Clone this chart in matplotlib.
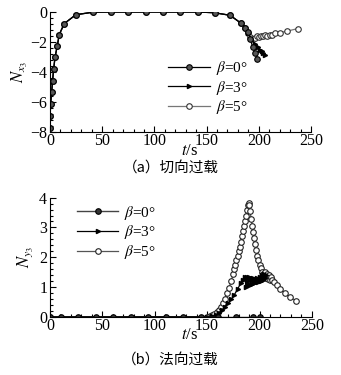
import matplotlib.pyplot as plt
from matplotlib.ticker import MultipleLocator

plt.rcParams['font.family'] = ['Liberation Serif', 'DejaVu Serif']
plt.rcParams['mathtext.fontset'] = 'stix'

# (a) tangential overload
ta_common = [0, 0.2, 0.6, 1.6, 2.5, 3.5, 4.8, 7.0, 8.9, 13.7, 24.8, 41.5, 58.2, 74.9,
             91.6, 108.3, 125.0, 141.7, 157.6, 172.5, 183.0]
na_common = [-7.7, -6.9, -6.1, -5.35, -4.57, -3.82, -3.03, -2.25, -1.5, -0.77, -0.18, -0.01,
             0, 0, 0, 0, 0, 0, -0.05, -0.22, -0.75]
ta_b0 = ta_common + [187, 190, 192, 194, 196.5, 198.6]
na_b0 = na_common + [-1.05, -1.35, -1.83, -2.32, -2.7, -3.1]
ta_b3 = ta_common + [187, 190, 193, 196, 199, 201, 203, 204.3, 206]
na_b3 = na_common + [-1.0, -1.4, -1.8, -2.1, -2.3, -2.5, -2.6, -2.72, -2.85]
ta_b5 = ta_common + [187, 190, 192, 194, 196, 198, 200, 202, 204, 206, 208, 210.7, 213,
                     215.5, 220, 226.7, 237.8]
na_b5 = na_common + [-1.05, -1.4, -1.66, -1.8, -1.7, -1.62, -1.68, -1.58, -1.6, -1.53, -1.57,
                     -1.5, -1.52, -1.43, -1.38, -1.28, -1.1]

# (b) normal overload
tb_b0 = [0, 10.5, 27.2, 43.9, 60.6, 77.3, 94.0, 110.7, 127.4, 144.1, 160.8, 177.5, 194.2, 200]
nb_b0 = [0] * len(tb_b0)
tb_b3 = [0, 150, 155, 158, 161, 164, 167, 170, 173, 176, 179, 182, 184, 186, 187, 188, 189,
         190, 191, 192, 193, 194, 195, 196, 197, 198, 199, 200, 201, 202, 203, 204, 205, 206]
nb_b3 = [0, 0, 0.02, 0.06, 0.13, 0.22, 0.33, 0.45, 0.58, 0.74, 0.92, 1.12, 1.25, 1.35, 1.0,
         1.33, 1.05, 1.32, 1.07, 1.3, 1.1, 1.3, 1.12, 1.28, 1.15, 1.3, 1.18, 1.35, 1.2, 1.4,
         1.25, 1.45, 1.3, 1.4]
tb_b5 = [0, 150, 153, 155, 157, 159, 161, 163, 165, 167, 169, 171, 173, 175, 176, 177, 178,
         179, 180, 181, 182, 183, 184, 185, 186, 187, 188, 188.8, 189.5, 190.3, 191, 192,
         193, 194, 195, 196, 197, 198, 199, 200, 201, 202, 203, 204, 205, 206, 207, 208,
         209, 210, 211, 212, 214, 217, 220, 224, 229, 235]
nb_b5 = [0, 0, 0.03, 0.06, 0.1, 0.15, 0.22, 0.32, 0.45, 0.6, 0.78, 0.98, 1.2, 1.45, 1.6,
         1.75, 1.9, 2.05, 2.2, 2.35, 2.5, 2.7, 2.88, 3.05, 3.22, 3.4, 3.6, 3.75, 3.82, 3.75,
         3.55, 3.3, 3.05, 2.85, 2.65, 2.45, 2.25, 2.05, 1.9, 1.75, 1.62, 1.5, 1.42, 1.35,
         1.5, 1.3, 1.45, 1.28, 1.4, 1.25, 1.35, 1.22, 1.15, 1.05, 0.92, 0.8, 0.66, 0.53]

labels = [r'$\beta$=0°', r'$\beta$=3°', r'$\beta$=5°']

fig = plt.figure(figsize=(3.41, 3.75), dpi=100)


def style(ax, ylim, ymajor, yminor):
    ax.set_xlim(0, 250)
    ax.set_ylim(*ylim)
    ax.spines['top'].set_visible(False)
    ax.spines['right'].set_visible(False)
    ax.xaxis.set_major_locator(MultipleLocator(50))
    ax.xaxis.set_minor_locator(MultipleLocator(10))
    ax.yaxis.set_major_locator(MultipleLocator(ymajor))
    ax.yaxis.set_minor_locator(MultipleLocator(yminor))
    ax.tick_params(which='both', direction='in', labelsize=11.5, width=0.8)
    ax.tick_params(which='major', length=4)
    ax.tick_params(which='minor', length=2)
    ax.tick_params(axis='x', pad=1)
    ax.tick_params(axis='y', pad=2)


ax = fig.add_axes([0.1466, 0.648, 0.7654, 0.32])
ax.plot(ta_b5, na_b5, color='#777777', lw=0.9, marker='o', ms=4, mfc='white',
        mec='#333333', mew=0.8, label=labels[2])
ax.plot(ta_b3, na_b3, color='black', lw=0.9, marker='>', ms=3, mfc='black',
        mec='black', label=labels[1])
ax.plot(ta_b0, na_b0, color='black', lw=0.9, marker='o', ms=4, mfc='#555555',
        mec='black', mew=0.8, label=labels[0])
style(ax, (-8, 0), 2, 0.4)
ax.set_ylabel(r'$N_{x_3}$', fontsize=12, labelpad=0)
h, l = ax.get_legend_handles_labels()
ax.legend(h[::-1], l[::-1], loc='lower left', bbox_to_anchor=(0.43, 0.08), frameon=False,
          fontsize=11, handlelength=2.7, handletextpad=0.4, labelspacing=0.1,
          borderaxespad=0)

bx = fig.add_axes([0.1466, 0.1555, 0.768, 0.3173])
bx.plot(tb_b5, nb_b5, color='#555555', lw=0.9, marker='o', ms=4, mfc='white',
        mec='#222222', mew=0.8, label=labels[2])
bx.plot(tb_b3, nb_b3, color='black', lw=0.9, marker='>', ms=3, mfc='black',
        mec='black', label=labels[1])
bx.plot(tb_b0, nb_b0, color='#444444', lw=1.0, marker='o', ms=4, mfc='#333333',
        mec='black', mew=0.8, label=labels[0])
style(bx, (0, 4), 1, 0.2)
bx.set_ylabel(r'$N_{y_3}$', fontsize=12, labelpad=3)
h, l = bx.get_legend_handles_labels()
bx.legend(h[::-1], l[::-1], loc='upper left', bbox_to_anchor=(0.08, 1.0), frameon=False,
          fontsize=11, handlelength=2.7, handletextpad=0.4, labelspacing=0.1,
          borderaxespad=0)

fig.text(0.555, 0.598, r'$t$/s', ha='center', va='center', fontsize=12)
fig.text(0.555, 0.107, r'$t$/s', ha='center', va='center', fontsize=12)
fig.text(0.5, 0.553, '（a）切向过载', ha='center', va='center', fontsize=10.5,
         family=['Noto Sans CJK SC', 'DejaVu Sans'])
fig.text(0.5, 0.04, '（b）法向过载', ha='center', va='center', fontsize=10.5,
         family=['Noto Sans CJK SC', 'DejaVu Sans'])

fig.savefig('out.png', dpi=100)
